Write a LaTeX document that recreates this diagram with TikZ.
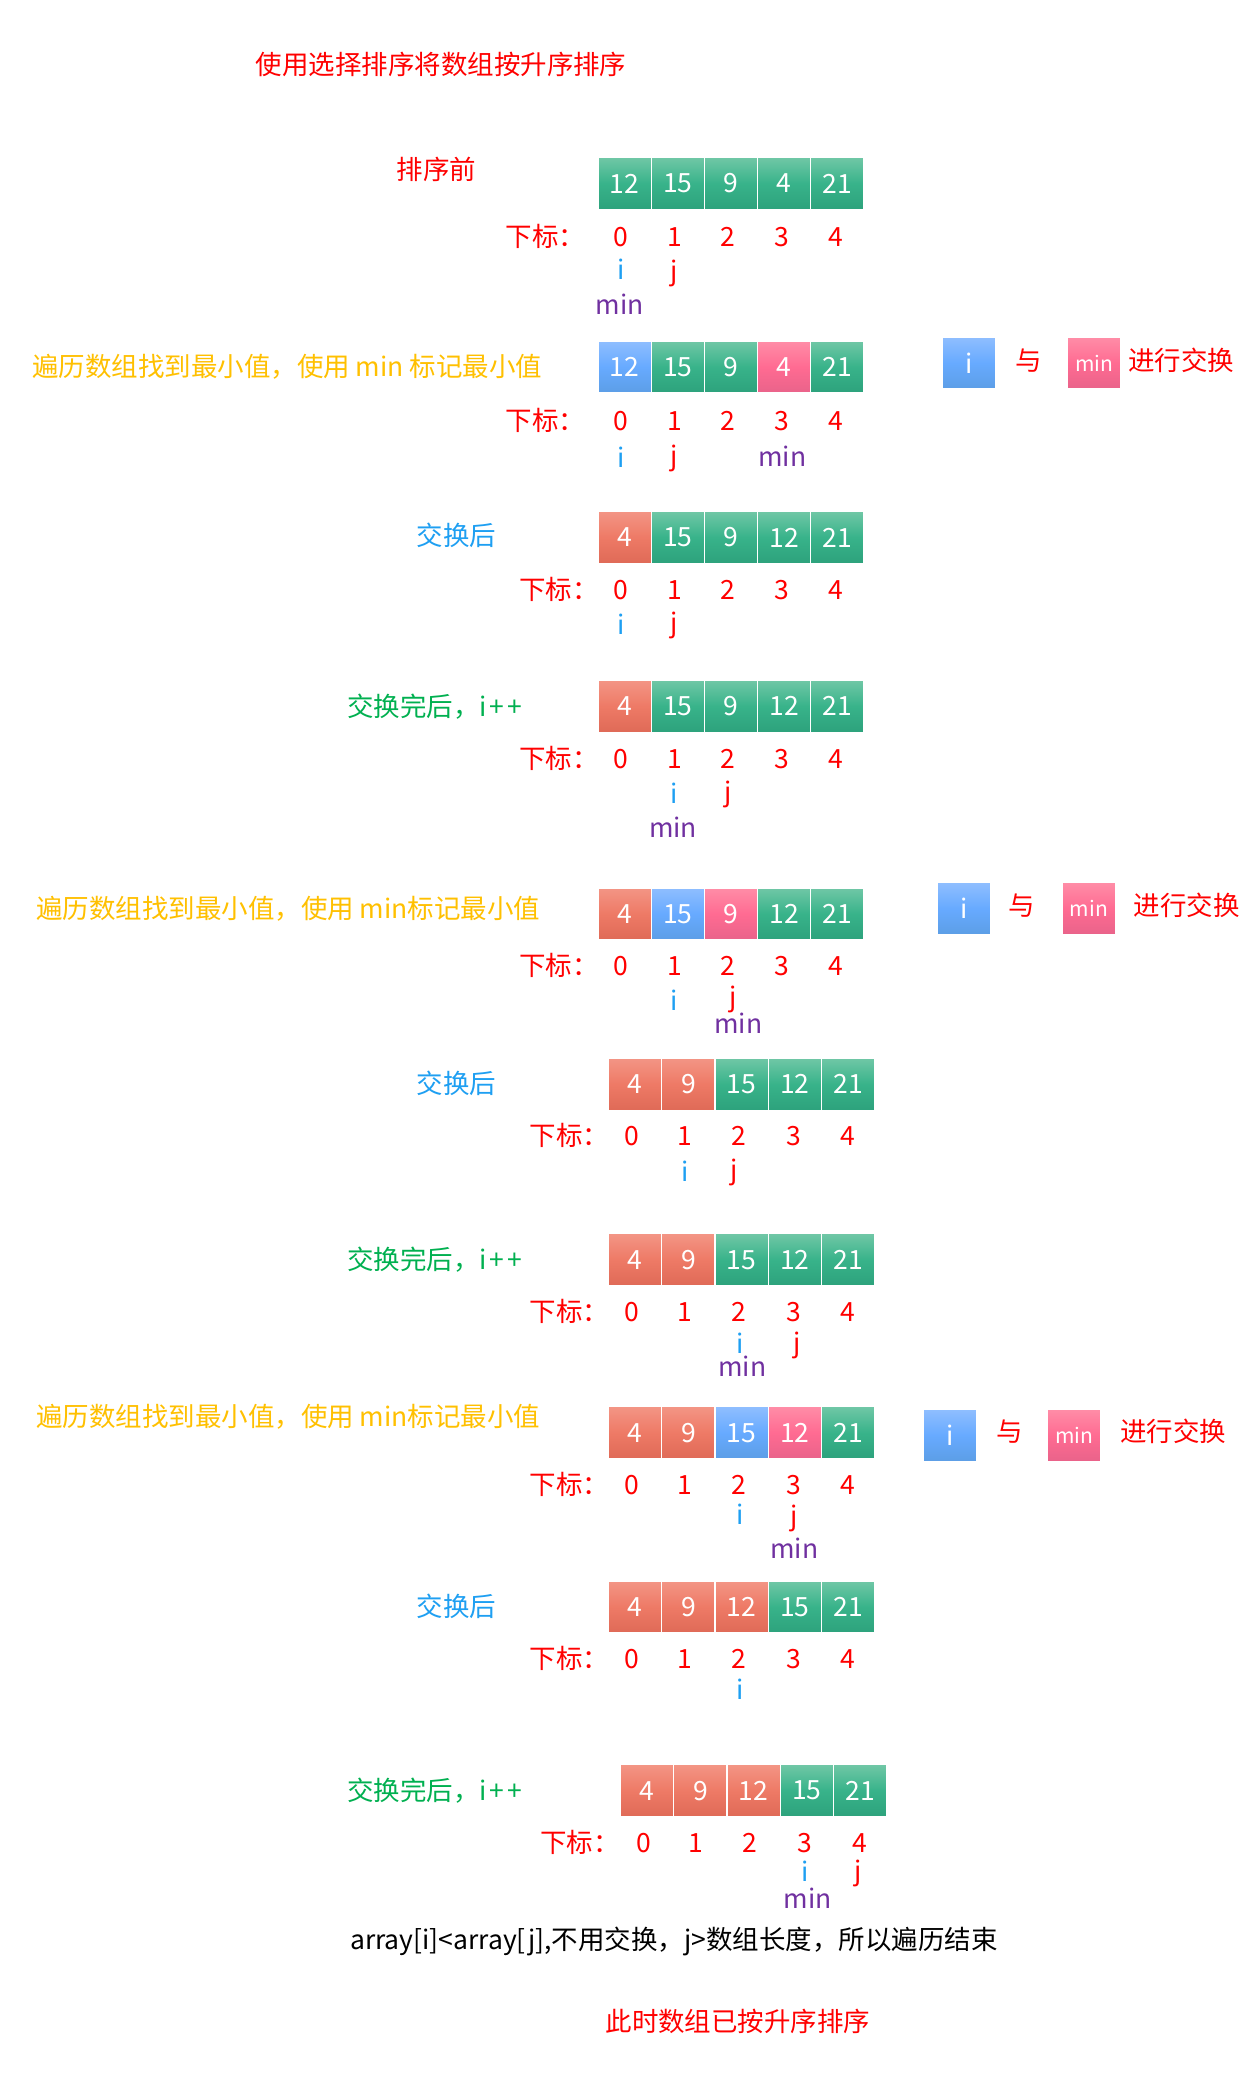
\documentclass[tikz,border=0pt]{standalone}
\usepackage{fontspec}
\setmainfont{Noto Sans CJK SC}
\definecolor{myred}{HTML}{FF0000}
\definecolor{gold}{HTML}{FFC000}
\definecolor{sky}{HTML}{1E9FF2}
\definecolor{grn}{HTML}{00B050}
\definecolor{purp}{HTML}{7030A0}
% cell gradients
\definecolor{gT}{HTML}{70C7A6}\definecolor{gM}{HTML}{38B38A}\definecolor{gB}{HTML}{2DA27C}
\definecolor{rT}{HTML}{F39585}\definecolor{rM}{HTML}{EE7A66}\definecolor{rB}{HTML}{DF6A57}
\definecolor{bT}{HTML}{8FBEFF}\definecolor{bM}{HTML}{67AAFF}\definecolor{bB}{HTML}{5C9EE6}
\definecolor{pT}{HTML}{FF8DA7}\definecolor{pM}{HTML}{FF6B92}\definecolor{pB}{HTML}{E9638A}
\tikzset{
  txt/.style={inner sep=0pt, font=\fontsize{26.5}{30}\selectfont, anchor=base, yshift=-9.7pt},
  low/.style={yshift=2.2pt},
  cell/.style={draw=white, line width=1.2pt, minimum width=53.2pt, minimum height=51.9pt,
    inner sep=0pt, anchor=north west, text=white, font=\fontsize{26.5}{30}\selectfont},
}
\newcommand\ipp{i\kern2pt+\kern4pt+}
\newcommand\arrrow[4]{%
  \foreach \cc/\vv [count=\k from 0] in {#4}{
    \node[cell, top color=\cc T, bottom color=\cc B, middle color=\cc M] (#1\k) at ({#2+40*\k},#3) {\vv};
  }}
\newcommand\idxrow[4]{%
  \node[txt, myred, anchor=base west] (#1L) at (#2,#3) {下标：};
  \foreach \xx [count=\k from 0] in {#4}{
    \node[txt, myred] (#1x\k) at (\xx,#3) {\k};
  }}
\begin{document}
\begin{tikzpicture}[x=1.3309pt,y=-1.3309pt]
\useasboundingbox (0,0) rectangle (946,1568);
\fill[white] (0,0) rectangle (946,1568);

\node[txt, myred, anchor=base west] (title) at (192,49) {使用选择排序将数组按升序排序};

% Row A
\node[txt, myred, anchor=base west] (lA) at (298,128) {排序前};
\arrrow{A}{449}{118}{g/12,g/15,g/9,g/4,g/21}
\idxrow{IA}{380}{178}{467,507,547,588,628}
\node[txt, sky] (iA) at (467,203) {i};
\node[txt, low, myred] (jA) at (507,205) {j};
\node[txt, low, purp] (mA) at (466,231) {min};

% Row B
\node[txt, gold, anchor=base west] (lB) at (24,276) {遍历数组找到最小值，使用 min 标记最小值};
\arrrow{B}{449}{256}{b/12,g/15,g/9,p/4,g/21}
\idxrow{IB}{380}{316}{467,507,547,588,628}
\node[txt, sky] (iB) at (467,344) {i};
\node[txt, low, myred] (jB) at (507,344) {j};
\node[txt, low, purp] (mB) at (588,345) {min};
\node[cell, top color=bT, bottom color=bB, middle color=bM] (sBi) at (708,253) {i};
\node[txt, myred] (yB) at (773,271) {与};
\node[cell, top color=pT, bottom color=pB, middle color=pM, font=\fontsize{21}{24}\selectfont] (sBm) at (802,253) {min};
\node[txt, myred, anchor=base west] (xB) at (848,271) {进行交换};

% Row C
\node[txt, sky, anchor=base west] (lC) at (313,403) {交换后};
\arrrow{C}{449}{384}{r/4,g/15,g/9,g/12,g/21}
\idxrow{IC}{390}{443}{467,507,547,588,628}
\node[txt, sky] (iC) at (467,470) {i};
\node[txt, low, myred] (jC) at (507,470) {j};

% Row D
\node[txt, grn, anchor=base west] (lD) at (261,531) {交换完后，\ipp};
\arrrow{D}{449}{511}{r/4,g/15,g/9,g/12,g/21}
\idxrow{ID}{390}{570}{467,507,547,588,628}
\node[txt, sky] (iD) at (507,597) {i};
\node[txt, low, myred] (jD) at (547,597) {j};
\node[txt, low, purp] (mD) at (506,624) {min};

% Row E
\node[txt, gold, anchor=base west] (lE) at (27,683) {遍历数组找到最小值，使用 min标记最小值};
\arrrow{E}{449}{667}{r/4,b/15,p/9,g/12,g/21}
\idxrow{IE}{390}{726}{467,507,547,588,628}
\node[txt, sky] (iE) at (507,752) {i};
\node[txt, low, myred] (jE) at (551,751) {j};
\node[txt, low, purp] (mE) at (555,771) {min};
\node[cell, top color=bT, bottom color=bB, middle color=bM] (sEi) at (704,663) {i};
\node[txt, myred] (yE) at (768,681) {与};
\node[cell, top color=pT, bottom color=pB, middle color=pM, font=\fontsize{21}{24}\selectfont] (sEm) at (798,663) {min};
\node[txt, myred, anchor=base west] (xE) at (852,681) {进行交换};

% Row F
\node[txt, sky, anchor=base west] (lF) at (313,815) {交换后};
\arrrow{F}{457}{795}{r/4,r/9,g/15,g/12,g/21}
\idxrow{IF}{398}{854}{475,515,555,597,637}
\node[txt, sky] (iF) at (515,881) {i};
\node[txt, low, myred] (jF) at (552,881) {j};

% Row G
\node[txt, grn, anchor=base west] (lG) at (261,947) {交换完后，\ipp};
\arrrow{G}{457}{927}{r/4,r/9,g/15,g/12,g/21}
\idxrow{IG}{398}{986}{475,515,555,597,637}
\node[txt, sky] (iG) at (556,1010) {i};
\node[txt, low, myred] (jG) at (599,1011) {j};
\node[txt, low, purp] (mG) at (558,1029) {min};

% Row H
\node[txt, gold, anchor=base west] (lH) at (27,1065) {遍历数组找到最小值，使用 min标记最小值};
\arrrow{H}{457}{1057}{r/4,r/9,b/15,p/12,g/21}
\idxrow{IH}{398}{1116}{475,515,555,597,637}
\node[txt, sky] (iH) at (556,1139) {i};
\node[txt, low, myred] (jH) at (597,1141) {j};
\node[txt, low, purp] (mH) at (597,1166) {min};
\node[cell, top color=bT, bottom color=bB, middle color=bM] (sHi) at (694,1059) {i};
\node[txt, myred] (yH) at (759,1076) {与};
\node[cell, top color=pT, bottom color=pB, middle color=pM, font=\fontsize{21}{24}\selectfont] (sHm) at (787,1059) {min};
\node[txt, myred, anchor=base west] (xH) at (842,1076) {进行交换};

% Row I
\node[txt, sky, anchor=base west] (lI) at (313,1208) {交换后};
\arrrow{I}{457}{1188}{r/4,r/9,r/12,g/15,g/21}
\idxrow{II}{398}{1247}{475,515,555,597,637}
\node[txt, sky] (iI) at (556,1270) {i};

% Row J
\node[txt, grn, anchor=base west] (lJ) at (261,1346) {交换完后，\ipp};
\arrrow{J}{466}{1326}{r/4,r/9,r/12,g/15,g/21}
\idxrow{IJ}{406}{1385}{484,523,564,605,646}
\node[txt, sky] (iJ) at (605,1407) {i};
\node[txt, low, myred] (jJ) at (645,1408) {j};
\node[txt, low, purp] (mJ) at (607,1429) {min};

\node[txt, black, anchor=base west] (end) at (263,1458) {array[i]<array[j],不用交换，j>数组长度，所以遍历结束};
\node[txt, myred, anchor=base west] (done) at (455,1520) {此时数组已按升序排序};
\end{tikzpicture}
\end{document}
